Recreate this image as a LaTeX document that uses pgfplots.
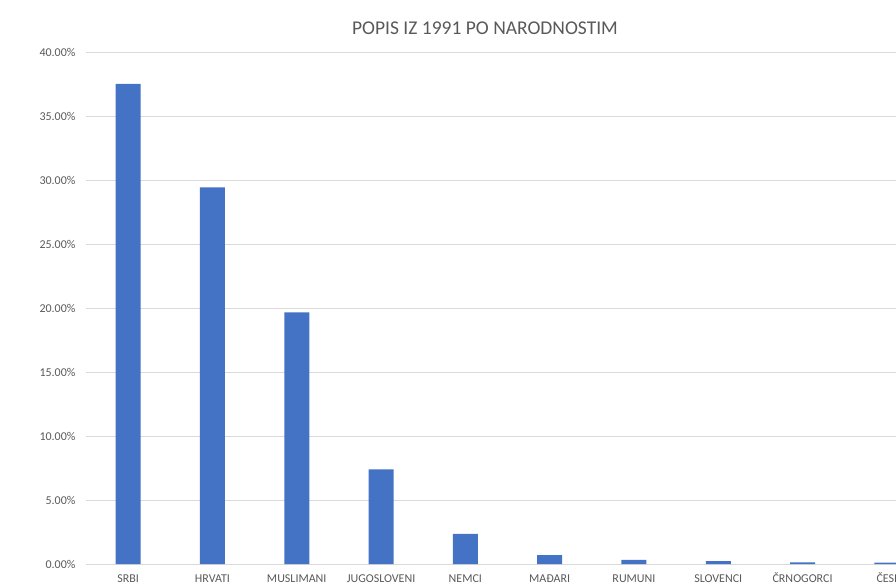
\documentclass[border=0pt]{standalone}
\usepackage{pgfplots}
\pgfplotsset{compat=1.18}
\usepackage{fontspec}
\setmainfont{Carlito}
\definecolor{barblue}{HTML}{4472C4}
\definecolor{txtgray}{HTML}{595959}
\definecolor{gridgray}{HTML}{D9D9D9}
\begin{document}
\begin{tikzpicture}[x=1pt,y=1pt]
\begin{axis}[
  at={(86pt,23pt)}, anchor=south west,
  scale only axis, width=843pt, height=512pt,
  xmin=-0.5, xmax=9.5, ymin=0, ymax=40,
  enlarge x limits=false,
  ybar, bar width=25pt, bar shift=0pt,
  axis line style={draw=none},
  ymajorgrids, grid style={gridgray, line width=0.9pt},
  major tick length=0pt,
  xtick={0,...,9},
  xticklabels={SRBI,HRVATI,MUSLIMANI,JUGOSLOVENI,NEMCI,MAĐARI,RUMUNI,SLOVENCI,ČRNOGORCI,ČESI},
  ytick={0,5,...,40},
  /pgf/number format/assume math mode=true,
  yticklabel={\pgfmathprintnumber[fixed,fixed zerofill,precision=2]{\tick}\%},
  ticklabel style={font=\fontsize{12}{14}\selectfont, text=txtgray},
  yticklabel style={anchor=east, xshift=-7pt},
  xticklabel style={anchor=base, yshift=-18.5pt},
]
\addplot[fill=barblue, draw=none] table {
x y
0 37.50
1 29.42
2 19.65
3 7.40
4 2.35
5 0.70
6 0.33
7 0.22
8 0.12
9 0.10
};
\end{axis}
\node[text=txtgray, font=\fontsize{19.5}{22}\selectfont] at (485pt,559pt) {POPIS IZ 1991 PO NARODNOSTIM};
\pgfresetboundingbox
\useasboundingbox (0,0) rectangle (896pt,587pt);
\end{tikzpicture}
\end{document}
